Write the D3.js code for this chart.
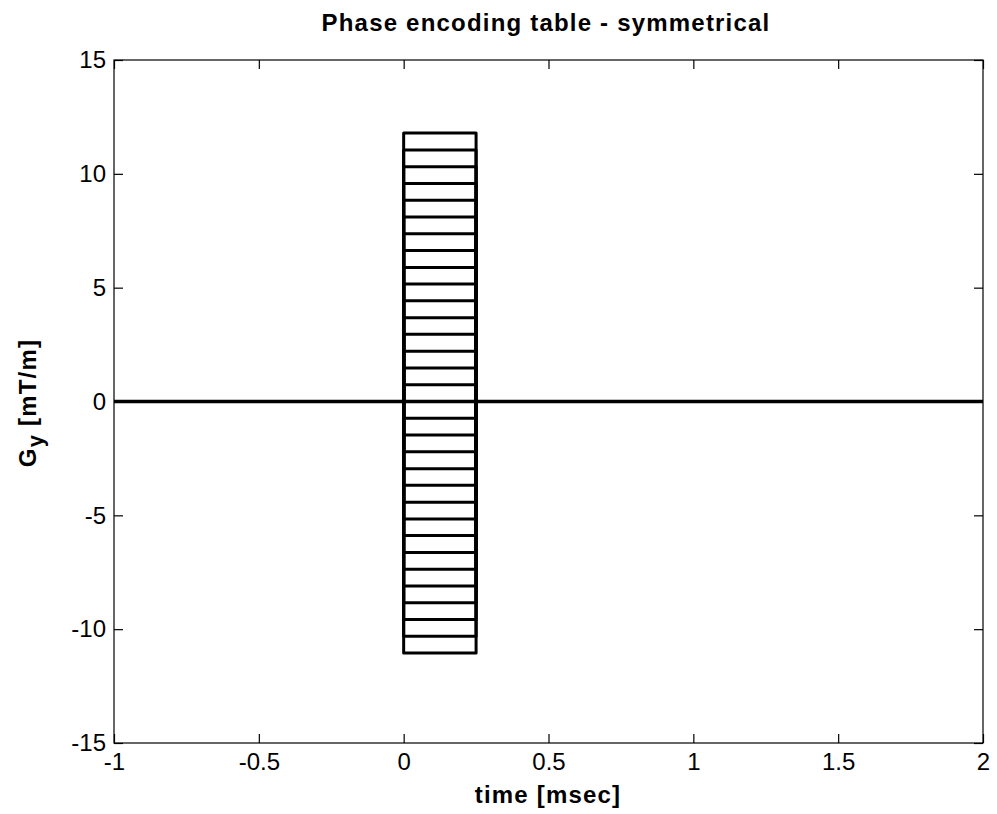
<!DOCTYPE html>
<html>
<head>
<meta charset="utf-8">
<script src="https://cdn.jsdelivr.net/npm/d3@7"></script>
<style>
  body { margin: 0; background: #fff; }
  text { font-family: "Liberation Sans", Arial, sans-serif; fill: #000; }
</style>
</head>
<body>
<div id="chart"></div>
<script>
// Phase encoding gradient steps [mT/m]
const gyLevels = [
  -11.05, -10.31, -9.58, -8.84, -8.10, -7.37, -6.63, -5.89, -5.16, -4.42,
  -3.68, -2.95, -2.21, -1.47, -0.74, 0, 0.74, 1.47, 2.21, 2.95,
  3.68, 4.42, 5.16, 5.89, 6.63, 7.37, 8.10, 8.84, 9.58, 10.31,
  11.05, 11.79
];
const pulseStart = 0;
const pulseEnd = 0.25;
const xTicks = [-1, -0.5, 0, 0.5, 1, 1.5, 2];
const yTicks = [-15, -10, -5, 0, 5, 10, 15];

const W = 997;
const H = 814;
const M = { left: 114, right: 983, top: 60, bottom: 743 };

const svg = d3.select("#chart").append("svg")
  .attr("width", W)
  .attr("height", H);

const x = d3.scaleLinear().domain([-1, 2]).range([M.left, M.right]);
const y = d3.scaleLinear().domain([-15, 15]).range([M.bottom, M.top]);

// axes box
svg.append("rect")
  .attr("x", M.left).attr("y", M.top)
  .attr("width", M.right - M.left).attr("height", M.bottom - M.top)
  .attr("fill", "none").attr("stroke", "#000").attr("stroke-width", 1.2);

// ticks (inward, all four sides)
const tickLen = 9;
const fmt = d => String(d);

svg.append("g")
  .attr("transform", "translate(0," + M.bottom + ")")
  .call(d3.axisBottom(x).tickValues(xTicks).tickSize(-tickLen).tickPadding(10).tickFormat(fmt))
  .call(g => g.select(".domain").remove());
svg.append("g")
  .attr("transform", "translate(0," + M.top + ")")
  .call(d3.axisTop(x).tickValues(xTicks).tickSize(-tickLen).tickFormat(""))
  .call(g => g.select(".domain").remove());
svg.append("g")
  .attr("transform", "translate(" + M.left + ",0)")
  .call(d3.axisLeft(y).tickValues(yTicks).tickSize(-tickLen).tickPadding(8).tickFormat(fmt))
  .call(g => g.select(".domain").remove());
svg.append("g")
  .attr("transform", "translate(" + M.right + ",0)")
  .call(d3.axisRight(y).tickValues(yTicks).tickSize(-tickLen).tickFormat(""))
  .call(g => g.select(".domain").remove());

svg.selectAll(".tick text")
  .style("font-family", "'Liberation Sans', Arial, sans-serif")
  .style("font-size", "24px");
svg.selectAll(".tick line").attr("stroke", "#000").attr("stroke-width", 1.2);

// zero line across the whole time axis
svg.append("line")
  .attr("x1", x(-1)).attr("x2", x(2))
  .attr("y1", y(0)).attr("y2", y(0))
  .attr("stroke", "#000").attr("stroke-width", 3.4);

// one trapezoid per table entry
const line = d3.line().x(d => x(d[0])).y(d => y(d[1]));
svg.append("g").selectAll("path")
  .data(gyLevels)
  .enter()
  .append("path")
  .attr("d", g => line([[pulseStart, 0], [pulseStart, g], [pulseEnd, g], [pulseEnd, 0]]))
  .attr("fill", "none")
  .attr("stroke", "#000")
  .attr("stroke-width", 3)
  .attr("stroke-linejoin", "round");

// title and labels
svg.append("text")
  .attr("x", 546).attr("y", 31)
  .attr("text-anchor", "middle")
  .attr("font-size", 24).attr("font-weight", "bold")
  .attr("letter-spacing", 1.2)
  .text("Phase encoding table - symmetrical");

svg.append("text")
  .attr("x", 548).attr("y", 803)
  .attr("text-anchor", "middle")
  .attr("font-size", 24).attr("font-weight", "bold")
  .attr("letter-spacing", 1.2)
  .text("time [msec]");

const ylab = svg.append("text")
  .attr("transform", "translate(36,403) rotate(-90)")
  .attr("text-anchor", "middle")
  .attr("font-size", 24).attr("font-weight", "bold")
  .attr("letter-spacing", 1.2);
ylab.append("tspan").text("G");
ylab.append("tspan").attr("dy", 7).attr("font-size", 22).text("y");
ylab.append("tspan").attr("dy", -7).text(" [mT/m]");
</script>
</body>
</html>
